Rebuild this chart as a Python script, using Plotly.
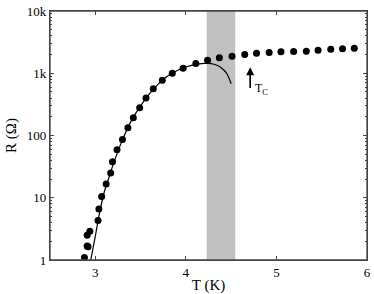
import math
import plotly.graph_objects as go

# Measured data points (T in K, R in Ohm)
T_data = [2.88, 2.91, 2.92, 2.91, 2.94, 3.03, 3.04, 3.07, 3.12, 3.17, 3.19, 3.24,
          3.30, 3.36, 3.42, 3.49, 3.56, 3.64, 3.74, 3.85, 3.97, 4.11, 4.24, 4.37,
          4.51, 4.65, 4.78, 4.92, 5.05, 5.19, 5.33, 5.46, 5.60, 5.73, 5.86]
R_data = [1.1, 1.68, 1.64, 2.5, 2.9, 4.3, 6.6, 10.5, 16.6, 25, 38, 59,
          86, 133, 193, 280, 400, 565, 775, 1000, 1200, 1440, 1620, 1770,
          1880, 2000, 2090, 2160, 2210, 2240, 2260, 2350, 2420, 2470, 2530]

# Fit curve
T_fit = [2.95, 3.0, 3.05, 3.1, 3.15, 3.2, 3.3, 3.4, 3.5, 3.6, 3.7, 3.8, 3.9,
         4.0, 4.1, 4.2, 4.25, 4.3, 4.35, 4.4, 4.45, 4.5]
R_fit = [1.0, 2.4, 6.0, 12.5, 21, 35, 85, 175, 300, 470, 680, 900, 1100,
         1260, 1380, 1440, 1440, 1410, 1330, 1190, 1000, 680]

# Shaded transition band and Tc marker
band_T = [4.23, 4.545]
tc_T = 4.71
tc_R_tip = 1250
tc_R_tail = 550

x_ticks = [3, 4, 5, 6]
y_ticks = [1, 10, 100, 1000, 10000]
y_ticktext = ["1", "10", "100", "1k", "10k"]
y_minor = [k * 10 ** d for d in range(4) for k in range(2, 10)]

FONT = "Liberation Serif, Times New Roman, Times, serif"
AXC = "#444444"

fig = go.Figure()
fig.add_trace(go.Scatter(x=T_fit, y=R_fit, mode="lines", line=dict(color="black", width=1.2, shape="spline"),
                         showlegend=False, hoverinfo="skip"))
fig.add_trace(go.Scatter(x=T_data, y=R_data, mode="markers", marker=dict(color="black", size=7),
                         showlegend=False))

fig.add_shape(type="rect", xref="x", yref="paper", x0=band_T[0], x1=band_T[1], y0=0, y1=1,
              fillcolor="#c0c0c0", line=dict(width=0), layer="below")
# plot frame
fig.add_shape(type="rect", xref="paper", yref="paper", x0=0, x1=1, y0=0, y1=1,
              line=dict(color=AXC, width=1.3), fillcolor="rgba(0,0,0,0)", layer="above")

fig.add_annotation(x=tc_T, y=math.log10(tc_R_tip), ax=tc_T, ay=math.log10(tc_R_tail),
                   xref="x", yref="y", axref="x", ayref="y", text="", showarrow=True,
                   arrowhead=2, arrowsize=1, arrowwidth=1.6, arrowcolor="black")
fig.add_annotation(x=4.745, y=2.74, xref="x", yref="y", text="T<sub>C</sub>", showarrow=False,
                   xanchor="left", yanchor="middle", font=dict(family=FONT, size=12, color="black"))

axis_common = dict(showline=True, linecolor=AXC, linewidth=1.3, mirror="allticks",
                   ticks="inside", ticklen=4, tickcolor=AXC, showgrid=False, zeroline=False,
                   automargin=False, ticklabeloverflow="allow",
                   tickfont=dict(family=FONT, size=13, color="black"))

fig.update_xaxes(range=[2.5, 6], tickvals=x_ticks,
                 title=dict(text="T (K)", font=dict(family=FONT, size=15, color="black"), standoff=2),
                 **axis_common)
fig.update_yaxes(type="log", range=[0, 4], tickvals=y_ticks, ticktext=y_ticktext,
                 minor=dict(tickvals=y_minor, ticks="inside", ticklen=2, tickcolor=AXC, showgrid=False),
                 title=dict(text="R (Ω)", font=dict(family=FONT, size=15, color="black"), standoff=6),
                 **axis_common)

fig.update_layout(template="none", width=374, height=294, margin=dict(l=50, r=7, t=11, b=34),
                  plot_bgcolor="white", paper_bgcolor="white",
                  font=dict(family=FONT, color="black"))

# remove the default page margin so the figure fills the window exactly
fig.write_html("out.html", config={"displayModeBar": False},
               post_script="document.body.style.margin='0';document.body.style.overflow='hidden';")
